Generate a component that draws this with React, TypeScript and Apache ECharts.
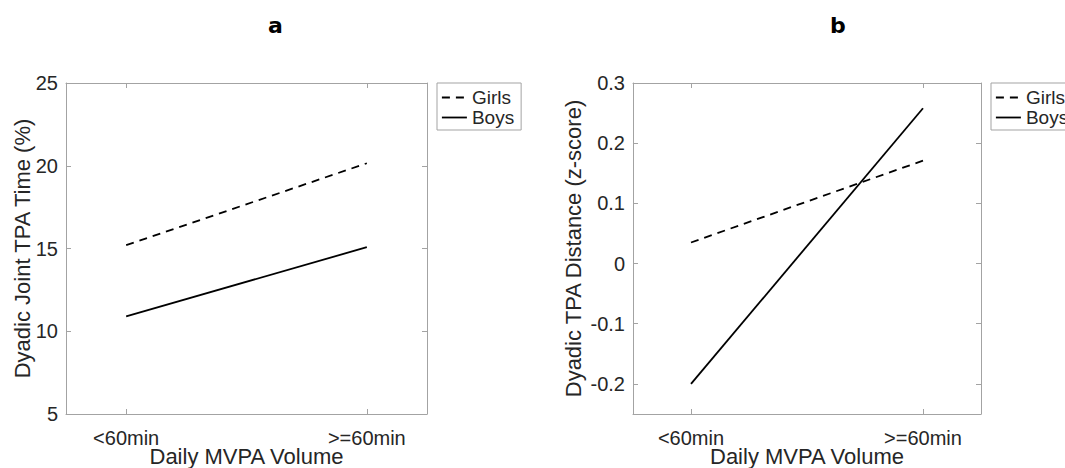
import React, { useEffect, useRef } from "react";
import * as echarts from "echarts";

const xCategories = ["<60min", ">=60min"];
const xPositions = [1, 2];
const seriesNames = ["Girls", "Boys"];

const aGirls = [15.2, 20.15];
const aBoys = [10.9, 15.08];
const aYTicks = [5, 10, 15, 20, 25];

const bGirls = [0.035, 0.171];
const bBoys = [-0.2, 0.258];
const bYTicks = [-0.2, -0.1, 0, 0.1, 0.2, 0.3];

const FONT = "Liberation Sans";
const TEXT = "#262626";
const AXIS = "#a3a3a3";

export default function App() {
  const ref = useRef<HTMLDivElement>(null);
  useEffect(() => {
    if (!ref.current) return;
    const chart = echarts.init(ref.current, null, { renderer: "svg" });

    const grids = [
      { left: 66, top: 83, width: 361, height: 331, outerBoundsMode: "none", containLabel: false },
      { left: 633, top: 83, width: 348, height: 331, outerBoundsMode: "none", containLabel: false },
    ];

    const xLabel = (v: number) => {
      const i = xPositions.indexOf(v);
      return i >= 0 ? xCategories[i] : "";
    };

    const mkX = (g: number, pos: "bottom" | "top") => ({
      type: "value",
      gridIndex: g,
      position: pos,
      min: 0.75,
      max: 2.25,
      axisLine: { show: true, onZero: false, lineStyle: { color: AXIS, width: 1 } },
      axisTick: { show: true, inside: true, length: 5, customValues: xPositions, lineStyle: { color: AXIS } },
      axisLabel: pos === "bottom"
        ? { show: true, customValues: xPositions, formatter: xLabel, color: TEXT, fontSize: 20, fontFamily: FONT, margin: 14 }
        : { show: false },
      splitLine: { show: false },
      name: pos === "bottom" ? "Daily MVPA Volume" : "",
      nameLocation: "middle",
      nameGap: 31,
      nameMoveOverlap: false,
      nameTextStyle: { color: TEXT, fontSize: 22, fontFamily: FONT },
    });

    const mkY = (g: number, pos: "left" | "right", min: number, max: number, ticks: number[], name: string, gap: number, fmt: (v: number) => string) => ({
      type: "value",
      gridIndex: g,
      position: pos,
      min,
      max,
      axisLine: { show: true, onZero: false, lineStyle: { color: AXIS, width: 1 } },
      axisTick: { show: true, inside: true, length: 5, customValues: ticks, lineStyle: { color: AXIS } },
      axisLabel: pos === "left"
        ? { show: true, customValues: ticks, formatter: fmt, color: TEXT, fontSize: 20, fontFamily: FONT, margin: 8 }
        : { show: false },
      splitLine: { show: false },
      name: pos === "left" ? name : "",
      nameLocation: "middle",
      nameGap: gap,
      nameMoveOverlap: false,
      nameTextStyle: { color: TEXT, fontSize: 22, fontFamily: FONT },
    });

    const fmtA = (v: number) => String(v);
    const fmtB = (v: number) => (Math.abs(v) < 1e-9 ? "0" : v.toFixed(1));

    const mkData = (vals: number[]) => vals.map((v, i) => [xPositions[i], v]);

    const lineSeries = (name: string, vals: number[], xi: number, yi: number) => ({
      type: "line",
      name,
      xAxisIndex: xi,
      yAxisIndex: yi,
      data: mkData(vals),
      symbol: "none",
      lineStyle: { color: "#000", width: 1.8, type: name === "Girls" ? [8, 6] : "solid" },
      itemStyle: { color: "#000" },
    });

    const legendBase = {
      orient: "vertical",
      top: 83,
      data: seriesNames,
      itemWidth: 25,
      itemHeight: 14,
      itemGap: 1,
      borderColor: AXIS,
      borderWidth: 1,
      padding: [5, 7, 3, 4],
      selectedMode: false,
      itemStyle: { color: "rgba(0,0,0,0)", borderColor: "rgba(0,0,0,0)", borderWidth: 0, opacity: 0 },
      lineStyle: { color: "#000", width: 1.8 },
      textStyle: { color: TEXT, fontSize: 19, fontFamily: FONT },
    };

    chart.setOption({
      animation: false,
      backgroundColor: "#fff",
      title: [
        { text: "a", left: 263, top: 9, textStyle: { fontSize: 22, fontWeight: 900, fontFamily: "DejaVu Sans", color: "#000" } },
        { text: "b", left: 825, top: 9, textStyle: { fontSize: 22, fontWeight: 900, fontFamily: "DejaVu Sans", color: "#000" } },
      ],
      legend: [
        { ...legendBase, left: 437 },
        { ...legendBase, left: 991 },
      ],
      grid: grids,
      xAxis: [mkX(0, "bottom"), mkX(0, "top"), mkX(1, "bottom"), mkX(1, "top")],
      yAxis: [
        mkY(0, "left", 5, 25, aYTicks, "Dyadic Joint TPA Time (%)", 33, fmtA),
        mkY(0, "right", 5, 25, aYTicks, "", 0, fmtA),
        mkY(1, "left", -0.25, 0.3, bYTicks, "Dyadic TPA Distance (z-score)", 49, fmtB),
        mkY(1, "right", -0.25, 0.3, bYTicks, "", 0, fmtB),
      ],
      series: [
        lineSeries("Girls", aGirls, 0, 0),
        lineSeries("Boys", aBoys, 0, 0),
        lineSeries("Girls", bGirls, 2, 2),
        lineSeries("Boys", bBoys, 2, 2),
      ],
    });

    return () => chart.dispose();
  }, []);

  return (
    <div
      ref={ref}
      style={{ position: "fixed", left: 0, top: 0, width: 1065, height: 468, background: "#fff" }}
    />
  );
}
